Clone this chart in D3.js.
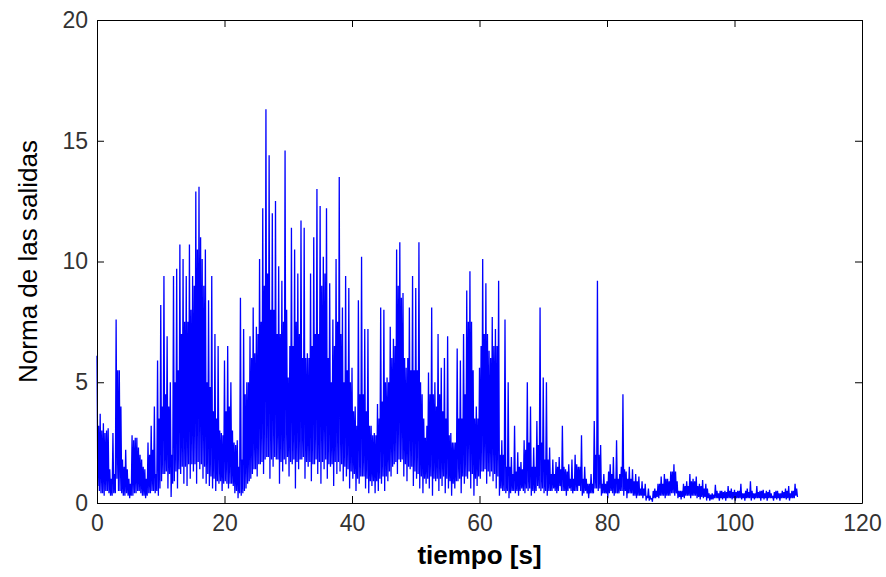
<!DOCTYPE html>
<html>
<head>
<meta charset="utf-8">
<script src="https://cdn.jsdelivr.net/npm/d3@7"></script>
<style>
  body { margin: 0; background: #fff; }
  svg { display: block; }
</style>
</head>
<body>
<div id="chart"></div>
<script>
// every 0.5 s slot holds four readings: peak, dip, body top, body bottom
const paso = 0.5;

// peaks, one per slot from t = 0 (rows of 5 s)
const picos = [
  6.1, 3.7, 3.3, 3.0, 1.4, 2.9, 7.6, 5.5, 1.8, 2.2,
  1.0, 2.8, 2.7, 2.3, 1.8, 1.4, 2.5, 3.2, 4.0, 5.9,
  8.2, 9.4, 6.9, 5.0, 9.4, 9.7, 10.7, 10.1, 9.4, 10.7,
  9.4, 12.9, 13.1, 10.1, 10.5, 8.4, 9.4, 7.0, 6.5, 2.9,
  5.9, 6.5, 5.0, 2.5, 2.6, 8.5, 7.2, 5.0, 6.9, 8.1,
  7.3, 10.1, 12.2, 16.3, 14.4, 12.0, 12.5, 9.8, 9.2, 14.6,
  5.2, 11.4, 10.5, 9.5, 11.7, 11.4, 6.2, 9.5, 11.0, 13.0,
  12.3, 10.2, 12.2, 9.1, 7.6, 10.1, 13.5, 8.1, 9.4, 8.9,
  5.6, 4.0, 8.4, 10.2, 7.2, 7.2, 3.2, 2.9, 4.1, 8.1,
  8.0, 5.2, 7.3, 6.8, 10.5, 10.8, 8.7, 5.6, 8.1, 9.4,
  8.9, 10.8, 4.5, 2.7, 5.4, 8.1, 5.0, 7.0, 5.6, 6.0,
  6.9, 2.9, 2.5, 6.4, 5.9, 7.0, 8.8, 9.6, 5.5, 4.0,
  5.6, 10.1, 9.1, 6.3, 7.7, 7.2, 9.2, 2.6, 7.6, 5.0,
  1.9, 3.2, 2.1, 1.7, 2.6, 5.0, 4.0, 2.3, 3.4, 8.1,
  5.2, 5.0, 2.3, 1.8, 1.7, 1.9, 3.2, 1.4, 1.6, 1.8,
  2.0, 1.5, 2.8, 1.5, 0.8, 1.2, 3.4, 9.2, 2.4, 1.2,
  0.9, 1.6, 1.9, 2.6, 1.2, 4.5, 1.3, 1.5, 1.4, 1.2,
  1.1, 0.9, 0.8, 0.6, 0.2, 0.6, 0.8, 1.1, 1.2, 1.0,
  1.3, 1.6, 0.9, 0.5, 0.8, 0.9, 1.2, 1.0, 1.1, 0.8,
  0.95, 0.8, 0.4, 0.4, 0.75, 0.4, 0.5, 0.5, 0.7, 0.6,
  0.55, 0.5, 0.8, 0.4, 0.6, 0.9, 0.4, 0.7, 0.5, 0.55,
  0.5, 0.55, 0.3, 0.5, 0.4, 0.5, 0.6, 0.7, 0.5, 0.8
];

// deep dips after each peak
const valles = [
  0.7, 0.4, 0.3, 0.5, 0.3, 0.4, 1.0, 0.5, 0.3, 0.4,
  0.2, 0.3, 0.4, 0.5, 0.3, 0.2, 0.4, 0.5, 0.4, 0.3,
  0.9, 1.2, 0.6, 0.25, 0.9, 0.6, 1.2, 0.8, 0.7, 1.0,
  1.3, 0.8, 1.4, 1.0, 0.8, 0.7, 0.6, 0.5, 0.8, 0.5,
  0.9, 0.6, 0.8, 0.4, 0.2, 0.3, 0.5, 0.8, 1.0, 1.4,
  1.1, 1.6, 1.2, 1.9, 1.0, 1.5, 1.8, 0.8, 1.3, 1.6,
  1.1, 1.6, 0.6, 1.4, 1.8, 1.0, 1.5, 0.9, 1.6, 1.2,
  0.8, 1.4, 1.0, 1.5, 0.7, 1.2, 1.3, 0.9, 1.1, 0.6,
  1.0, 0.5, 0.8, 1.1, 0.6, 0.4, 0.7, 0.4, 0.5, 0.8,
  0.5, 0.9, 1.1, 1.6, 1.2, 1.7, 1.1, 0.9, 1.4, 0.7,
  1.0, 0.6, 0.4, 0.8, 0.6, 0.3, 0.9, 0.5, 0.7, 0.4,
  0.6, 0.3, 0.6, 0.9, 0.4, 0.8, 1.0, 0.6, 0.3, 0.7,
  1.0, 1.3, 0.8, 1.1, 0.9, 0.6, 0.3, 0.5, 0.4, 0.2,
  0.5, 0.4, 0.3, 0.6, 0.4, 0.5, 0.3, 0.4, 0.7, 0.5,
  0.4, 0.3, 0.5, 0.6, 0.4, 0.7, 0.5, 0.3, 0.6, 0.4,
  0.5, 0.7, 0.3, 0.5, 0.2, 0.4, 0.6, 0.5, 0.3, 0.4,
  0.2, 0.5, 0.3, 0.4, 0.5, 0.3, 0.2, 0.4, 0.3, 0.2,
  0.3, 0.2, 0.1, 0.1, 0.05, 0.2, 0.2, 0.3, 0.2, 0.3,
  0.4, 0.3, 0.2, 0.15, 0.2, 0.3, 0.2, 0.3, 0.2, 0.15,
  0.2, 0.1, 0.1, 0.15, 0.2, 0.1, 0.15, 0.1, 0.2, 0.15,
  0.1, 0.2, 0.15, 0.1, 0.2, 0.1, 0.15, 0.2, 0.1, 0.15,
  0.1, 0.2, 0.1, 0.15, 0.1, 0.2, 0.15, 0.1, 0.2, 0.3
];

// top of the dense band
const cuerpo = [
  3.2, 3.0, 2.9, 3.1, 1.0, 1.2, 5.5, 4.0, 1.5, 1.4,
  0.8, 2.6, 2.7, 2.0, 1.5, 1.0, 2.0, 2.2, 1.2, 3.5,
  4.0, 4.5, 4.0, 2.0, 5.0, 5.5, 7.0, 7.5, 7.5, 8.0,
  9.0, 10.5, 11.0, 9.0, 5.0, 4.8, 3.8, 3.5, 3.0, 2.8,
  3.8, 4.0, 3.0, 2.4, 1.5, 1.8, 4.5, 5.0, 6.0, 6.2,
  7.0, 7.5, 9.0, 9.5, 8.0, 8.0, 7.0, 7.0, 7.5, 8.0,
  6.5, 6.5, 7.5, 7.0, 6.0, 6.0, 6.0, 6.5, 7.0, 7.0,
  9.0, 9.5, 6.0, 5.0, 6.5, 7.5, 7.0, 5.0, 5.5, 5.0,
  3.8, 3.2, 4.5, 4.5, 3.8, 3.2, 2.8, 2.8, 3.5, 4.2,
  5.0, 5.0, 6.0, 6.5, 9.0, 8.5, 6.0, 6.0, 5.5, 5.5,
  5.5, 5.0, 3.5, 3.2, 4.5, 4.5, 4.0, 4.5, 3.8, 3.5,
  2.8, 2.5, 2.5, 3.5, 3.5, 4.5, 7.5, 7.5, 3.5, 3.5,
  6.5, 7.0, 7.0, 6.0, 6.5, 6.5, 2.0, 2.0, 1.5, 1.5,
  1.2, 1.3, 1.5, 1.4, 2.2, 2.5, 1.5, 1.5, 2.4, 2.5,
  1.8, 1.8, 1.2, 1.2, 1.5, 1.4, 1.5, 1.3, 1.0, 1.0,
  1.6, 1.5, 1.0, 1.0, 0.8, 0.8, 2.0, 2.0, 0.8, 0.8,
  1.3, 1.2, 1.0, 1.0, 1.5, 1.4, 1.0, 1.0, 0.9, 0.9,
  0.6, 0.6, 0.3, 0.3, 0.5, 0.5, 0.8, 0.8, 1.0, 0.9,
  1.3, 1.3, 0.5, 0.5, 0.7, 0.7, 0.9, 0.9, 0.7, 0.7,
  0.6, 0.6, 0.35, 0.35, 0.5, 0.5, 0.45, 0.45, 0.5, 0.45,
  0.45, 0.5, 0.4, 0.5, 0.45, 0.5, 0.4, 0.45, 0.5, 0.4,
  0.45, 0.4, 0.45, 0.5, 0.4, 0.45, 0.5, 0.4, 0.5, 0.6
];

// bottom of the dense band
const fondo = [
  0.5, 0.4, 0.5, 0.4, 0.3, 0.4, 0.5, 0.4, 0.3, 0.3,
  0.3, 0.4, 0.5, 0.4, 0.3, 0.3, 0.4, 0.5, 0.5, 0.6,
  1.2, 1.3, 1.2, 0.8, 1.3, 1.4, 1.5, 1.5, 1.6, 1.6,
  1.6, 1.7, 1.6, 1.5, 1.2, 1.1, 1.0, 0.9, 0.9, 0.8,
  0.8, 0.8, 0.7, 0.5, 0.4, 0.4, 0.6, 0.9, 1.2, 1.4,
  1.6, 1.7, 1.8, 1.9, 1.8, 1.9, 1.8, 1.7, 1.8, 1.9,
  1.7, 1.8, 1.7, 1.8, 1.9, 1.7, 1.7, 1.6, 1.8, 1.7,
  1.7, 1.8, 1.6, 1.6, 1.7, 1.7, 1.6, 1.5, 1.4, 1.3,
  1.2, 1.0, 1.1, 1.1, 1.0, 0.9, 0.9, 0.9, 1.0, 1.1,
  1.1, 1.3, 1.5, 1.7, 1.8, 1.8, 1.6, 1.5, 1.5, 1.3,
  1.2, 1.1, 1.0, 1.0, 1.1, 1.0, 1.0, 1.0, 1.1, 1.0,
  0.9, 0.8, 0.9, 1.0, 1.1, 1.1, 1.3, 1.2, 1.0, 1.1,
  1.3, 1.4, 1.3, 1.3, 1.2, 1.1, 0.6, 0.5, 0.5, 0.4,
  0.5, 0.5, 0.5, 0.5, 0.6, 0.6, 0.5, 0.5, 0.6, 0.6,
  0.5, 0.5, 0.5, 0.5, 0.5, 0.5, 0.5, 0.5, 0.5, 0.5,
  0.5, 0.5, 0.4, 0.4, 0.4, 0.4, 0.6, 0.6, 0.4, 0.4,
  0.4, 0.4, 0.4, 0.4, 0.5, 0.5, 0.4, 0.4, 0.3, 0.3,
  0.3, 0.3, 0.2, 0.15, 0.2, 0.25, 0.3, 0.3, 0.3, 0.3,
  0.4, 0.4, 0.25, 0.25, 0.3, 0.3, 0.3, 0.3, 0.25, 0.25,
  0.25, 0.2, 0.15, 0.2, 0.2, 0.2, 0.2, 0.2, 0.2, 0.2,
  0.2, 0.2, 0.2, 0.2, 0.2, 0.2, 0.2, 0.2, 0.2, 0.2,
  0.2, 0.2, 0.2, 0.2, 0.2, 0.2, 0.2, 0.2, 0.2, 0.25
];

const xTicks = [0, 20, 40, 60, 80, 100, 120];
const yTicks = [0, 5, 10, 15, 20];

// chart constants
const W = 886, H = 577;
const margin = { top: 20, right: 24, bottom: 74, left: 97 };
const width = W - margin.left - margin.right;
const height = H - margin.top - margin.bottom;

const svg = d3.select('#chart').append('svg')
  .attr('width', W)
  .attr('height', H)
  .style('background', '#fff');

const plot = svg.append('g')
  .attr('transform', `translate(${margin.left},${margin.top})`);

const x = d3.scaleLinear().domain([0, 120]).range([0, width]);
const y = d3.scaleLinear().domain([0, 20]).range([height, 0]);

// interleave the four readings of each slot into one signal
const serie = [];
picos.forEach((p, i) => {
  const t = i * paso;
  serie.push({ t: t, v: p });
  serie.push({ t: t + paso / 4, v: valles[i] });
  serie.push({ t: t + paso / 2, v: cuerpo[i] });
  serie.push({ t: t + 3 * paso / 4, v: fondo[i] });
});

const line = d3.line()
  .x(d => x(d.t))
  .y(d => y(d.v));

plot.append('path')
  .datum(serie)
  .attr('d', line)
  .attr('fill', 'none')
  .attr('stroke', '#0000ff')
  .attr('stroke-width', 1.3)
  .attr('stroke-miterlimit', 2);

// axes, MATLAB style: box with inward ticks
const tickFont = g => g.selectAll('text')
  .style('font-family', '"Liberation Sans", Arial, sans-serif')
  .style('font-size', '23px')
  .attr('fill', '#333');

const xAxis = plot.append('g')
  .attr('transform', `translate(0,${height})`)
  .call(d3.axisBottom(x).tickValues(xTicks).tickSizeInner(-7).tickSizeOuter(0).tickPadding(12))
  .call(tickFont);

const yAxis = plot.append('g')
  .call(d3.axisLeft(y).tickValues(yTicks).tickSizeInner(-7).tickSizeOuter(0).tickPadding(9))
  .call(tickFont);

plot.append('g')
  .call(d3.axisTop(x).tickValues(xTicks).tickSizeInner(-7).tickSizeOuter(0).tickFormat(''));

plot.append('g')
  .attr('transform', `translate(${width},0)`)
  .call(d3.axisRight(y).tickValues(yTicks).tickSizeInner(-7).tickSizeOuter(0).tickFormat(''));

plot.selectAll('.domain').attr('stroke', '#000');
plot.selectAll('.tick line').attr('stroke', '#000');

// labels
svg.append('text')
  .attr('x', margin.left + width / 2)
  .attr('y', 564)
  .attr('text-anchor', 'middle')
  .style('font-family', '"Liberation Sans", Arial, sans-serif')
  .style('font-size', '26px')
  .style('font-weight', 'bold')
  .attr('fill', '#000')
  .text('tiempo [s]');

svg.append('text')
  .attr('transform', `translate(37,${margin.top + height / 2}) rotate(-90)`)
  .attr('text-anchor', 'middle')
  .style('font-family', '"Liberation Sans", Arial, sans-serif')
  .style('font-size', '26px')
  .attr('fill', '#000')
  .text('Norma de las salidas');
</script>
</body>
</html>
